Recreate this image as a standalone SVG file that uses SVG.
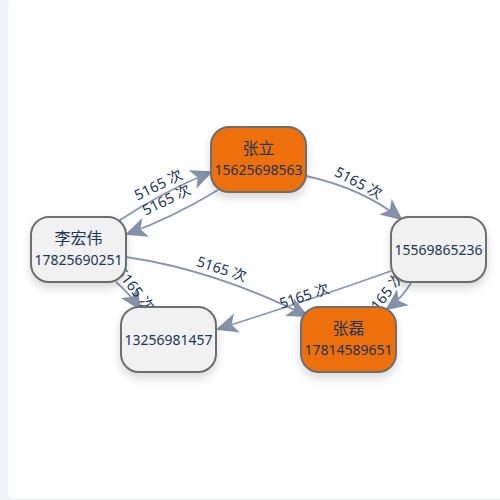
<svg xmlns="http://www.w3.org/2000/svg" width="500" height="500" viewBox="0 0 500 500">
<defs>
<style>
.node rect{stroke:#6e6e6e;stroke-width:2;filter:url(#sh)}
.or{fill:#ee700f}
.gr{fill:#f1f1f2}
.t{font-family:"Noto Sans","Noto Sans CJK SC",sans-serif;font-size:14px;fill:#1d3557;text-anchor:middle}
.nm{font-size:16px}
.e{fill:none;stroke:#8a97ad;stroke-width:1.8;marker-end:url(#ar)}
.lb{font-family:"Noto Sans","Noto Sans CJK SC",sans-serif;font-size:14.5px;fill:#1d3557;text-anchor:middle;dominant-baseline:central}
</style>
<filter id="sh" x="-30%" y="-30%" width="160%" height="170%">
<feDropShadow dx="0" dy="5" stdDeviation="5" flood-color="#000" flood-opacity="0.15"/>
</filter>
<marker id="ar" viewBox="0 0 20 20" refX="18" refY="10" markerWidth="22" markerHeight="22" markerUnits="userSpaceOnUse" orient="auto">
<path d="M20,10 L0,1 L5,10 L0,19 Z" fill="#8391a9"/>
</marker>
</defs>
<rect width="500" height="500" fill="#f2f3f8"/>
<rect x="8" y="0" width="500" height="498" rx="5" fill="#ffffff"/>
<g id="edges">
<path class="e" d="M117,222 Q162,192 211,172"/>
<text class="lb" transform="translate(158,184) rotate(-26)">5165 次</text>
<path class="e" d="M218,190 Q172,218 127,234"/>
<text class="lb" transform="translate(166,199) rotate(-26)">5165 次</text>
<path class="e" d="M306,176 Q362,188 401,219"/>
<text class="lb" transform="translate(359,182) rotate(28)">5165 次</text>
<path class="e" d="M126,257 Q215,270 307,316"/>
<text class="lb" transform="translate(222,268) rotate(18)">5165 次</text>
<path class="e" d="M391,271 Q310,300 218,329"/>
<text class="lb" transform="translate(304,295) rotate(-18)">5165 次</text>
<path class="e" d="M411,283 Q402,298 387,309"/>
<text class="lb" transform="translate(384,294) rotate(-52)">5165 次</text>
<path class="e" d="M116,282 Q130,294 140,309"/>
<text class="lb" transform="translate(136,289) rotate(52)">5165 次</text>
</g>
<g id="n-zhangli" class="node">
<rect class="or" x="211" y="127" width="95" height="65" rx="18"/>
<text class="t nm" x="258.5" y="154">张立</text>
<text class="t" x="258.5" y="175">15625698563</text>
</g>
<g id="n-lihongwei" class="node">
<rect class="gr" x="31" y="217" width="95" height="65" rx="18"/>
<text class="t nm" x="78.5" y="244">李宏伟</text>
<text class="t" x="78.5" y="265">17825690251</text>
</g>
<g id="n-15569865236" class="node">
<rect class="gr" x="391" y="217" width="95" height="65" rx="18"/>
<text class="t" x="438.5" y="254.5">15569865236</text>
</g>
<g id="n-13256981457" class="node">
<rect class="gr" x="121" y="307" width="95" height="65" rx="18"/>
<text class="t" x="168.5" y="344.5">13256981457</text>
</g>
<g id="n-zhanglei" class="node">
<rect class="or" x="301" y="307" width="95" height="65" rx="18"/>
<text class="t nm" x="348.5" y="334">张磊</text>
<text class="t" x="348.5" y="355">17814589651</text>
</g>
</svg>
